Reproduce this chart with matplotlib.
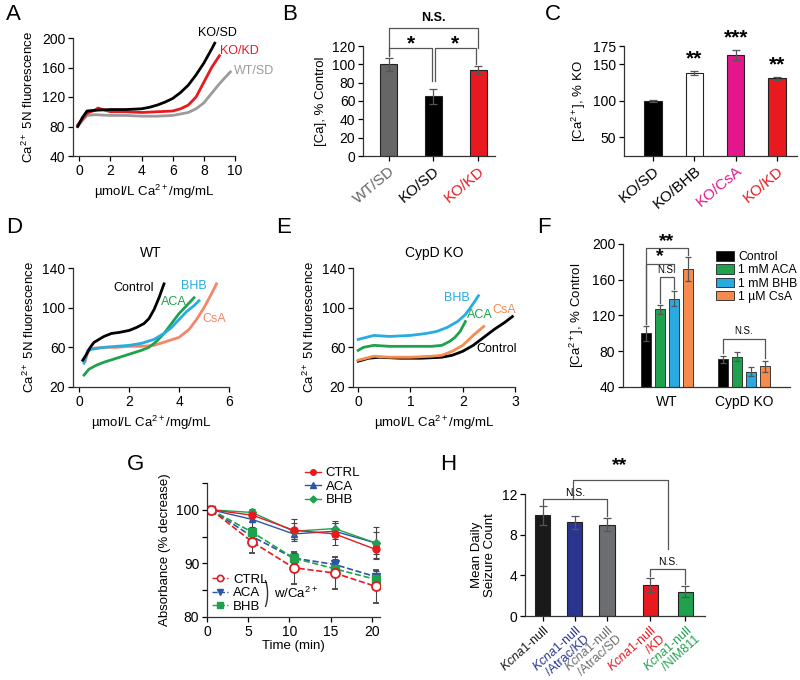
import matplotlib
matplotlib.use('Agg')
import matplotlib.pyplot as plt
from matplotlib.lines import Line2D
from matplotlib.patches import Arc

plt.rcParams['font.family'] = ['Liberation Sans', 'DejaVu Sans']
plt.rcParams['mathtext.fontset'] = 'custom'
plt.rcParams['mathtext.rm'] = 'Liberation Sans'
plt.rcParams['mathtext.it'] = 'Liberation Sans:italic'
plt.rcParams['axes.linewidth'] = 0.9
plt.rcParams['axes.edgecolor'] = '#333333'
plt.rcParams['xtick.labelsize'] = 10
plt.rcParams['ytick.labelsize'] = 10
plt.rcParams['axes.labelsize'] = 9.5

RED = '#e8191f'
GREY = '#666666'
GREEN = '#1fa14e'
BLUE = '#29abe2'
SALMON = '#f4866a'
ORANGE = '#f58b4c'
MAGENTA = '#e6168c'
NAVY = '#2a3590'
GBLUE = '#2a55a8'

# ---- A: Ca2+ 5N fluorescence vs Ca2+ load ----
a_kosd_x = [-0.1, 0.2, 0.5, 1, 2, 3, 4, 4.5, 5, 5.5, 6, 6.5, 7, 7.5, 8, 8.5, 8.7]
a_kosd_y = [80, 92, 101, 102, 103, 103, 104, 106, 109, 113, 118, 126, 136, 150, 166, 185, 193]
a_kokd_x = [-0.1, 0.2, 0.5, 1, 1.2, 2, 3, 4, 5, 6, 6.5, 7, 7.5, 8, 8.5, 9]
a_kokd_y = [82, 90, 98, 102, 105, 100, 100, 99, 100, 101, 104, 109, 120, 140, 160, 176]
a_wtsd_x = [-0.1, 0.2, 0.5, 1, 2, 3, 4, 5, 6, 6.5, 7, 7.5, 8, 8.5, 9, 9.7]
a_wtsd_y = [80, 88, 95, 96, 95, 95, 94, 94, 95, 97, 99, 104, 112, 125, 138, 154]

# ---- B ----
b_labels = ['WT/SD', 'KO/SD', 'KO/KD']
b_vals = [100, 65, 94]
b_err = [7, 8, 4]

# ---- C ----
c_labels = ['KO/SD', 'KO/BHB', 'KO/CsA', 'KO/KD']
c_vals = [100, 138, 163, 131]
c_err = [1.5, 3, 7, 2]

# ---- D: WT ----
d_ctrl_x = [0.15, 0.3, 0.45, 0.6, 0.8, 1.0, 1.3, 1.6, 2.0, 2.3, 2.6, 2.8, 3.0, 3.2, 3.4]
d_ctrl_y = [47, 53, 60, 65, 68, 71, 74, 75, 77, 80, 84, 89, 98, 110, 124]
d_bhb_x = [0.2, 0.35, 0.5, 1.0, 1.5, 2.0, 2.5, 3.0, 3.4, 3.7, 4.0, 4.3, 4.6, 4.8]
d_bhb_y = [44, 57, 58, 60, 61, 62, 64, 68, 74, 80, 88, 96, 102, 107]
d_aca_x = [0.2, 0.4, 0.7, 1.0, 1.5, 2.0, 2.5, 2.8, 3.1, 3.4, 3.7, 4.0, 4.3, 4.6]
d_aca_y = [32, 38, 42, 45, 49, 53, 57, 60, 66, 74, 84, 94, 102, 110]
d_csa_x = [0.25, 0.35, 0.5, 1.0, 1.5, 2.0, 2.5, 3.0, 3.5, 4.0, 4.4, 4.7, 5.0, 5.3, 5.5]
d_csa_y = [46, 55, 59, 60, 60, 61, 61, 62, 66, 70, 78, 88, 100, 114, 124]

# ---- E: CypD KO ----
e_bhb_x = [0, 0.15, 0.3, 0.6, 1.0, 1.3, 1.5, 1.7, 1.9, 2.05, 2.2, 2.3]
e_bhb_y = [68, 70, 72, 71, 72, 74, 76, 80, 86, 93, 104, 112]
e_aca_x = [0, 0.1, 0.3, 0.6, 1.0, 1.4, 1.6, 1.75, 1.85, 1.95, 2.05]
e_aca_y = [57, 60, 62, 61, 61, 61, 62, 66, 70, 76, 86]
e_csa_x = [0, 0.15, 0.3, 0.6, 1.0, 1.4, 1.6, 1.8, 2.0, 2.2, 2.4]
e_csa_y = [47, 49, 51, 50, 50, 51, 52, 56, 62, 72, 81]
e_ctrl_x = [0, 0.2, 0.4, 0.8, 1.2, 1.6, 1.8, 2.0, 2.2, 2.4, 2.6, 2.8, 2.95]
e_ctrl_y = [46, 49, 50, 49, 49, 50, 52, 56, 62, 70, 78, 85, 91]

# ---- F ----
f_groups = ['WT', 'CypD KO']
f_series = ['Control', '1 mM ACA', '1 mM BHB', '1 \u00b5M CsA']
f_wt = [100, 127, 139, 172]
f_wt_err = [8, 5, 8, 13]
f_ko = [71, 74, 57, 63]
f_ko_err = [4, 5, 5, 6]

# ---- G ----
g_time = [0.5, 5.5, 10.5, 15.5, 20.5]
g_ctrl = [100, 99, 96.2, 95.5, 92.6]
g_ctrl_err = [0.5, 1.2, 2, 2, 1.5]
g_aca = [100, 98.2, 95.5, 96.0, 93.8]
g_aca_err = [0.5, 1.5, 1, 1.5, 3]
g_bhb = [100, 99.5, 96.0, 96.5, 93.8]
g_bhb_err = [0.5, 0.5, 1.5, 1.5, 2]
g_ctrl_ca = [100, 94, 89.2, 88.2, 85.7]
g_ctrl_ca_err = [0.5, 2, 3, 3, 3]
g_aca_ca = [100, 95, 91, 89.8, 87.5]
g_aca_ca_err = [0.5, 1, 1, 1, 1]
g_bhb_ca = [100, 95.8, 91, 89, 87]
g_bhb_ca_err = [0.5, 0.5, 1, 1, 1]

# ---- H ----
h_labels = ['$\\it{Kcna1}$-null', '$\\it{Kcna1}$-null\n/Atrac/KD', '$\\it{Kcna1}$-null\n/Atrac/SD',
            '$\\it{Kcna1}$-null\n/KD', '$\\it{Kcna1}$-null\n/NIM811']
h_vals = [9.9, 9.2, 9.0, 3.05, 2.4]
h_err = [0.9, 0.6, 0.65, 0.7, 0.55]

W, H = 800, 680
fig = plt.figure(figsize=(8, 6.8), dpi=100)


def add_ax(left, top, right, bottom):
    return fig.add_axes([left / W, 1 - bottom / H, (right - left) / W, (bottom - top) / H])


def clean(ax):
    ax.spines['top'].set_visible(False)
    ax.spines['right'].set_visible(False)
    ax.tick_params(direction='out', length=3.5, width=0.9, pad=2)


def bracket(ax, x1, x2, y, y1, y2, text, fs=9, dy=2, weight='normal'):
    ax.plot([x1, x1, x2, x2], [y1, y, y, y2], color='#555555', lw=0.9, clip_on=False)
    if text:
        ax.text((x1 + x2) / 2, y + dy, text, ha='center', va='bottom', fontsize=fs,
                fontweight=weight, clip_on=False)


def letter(x, y, s):
    fig.text(x / W, 1 - y / H, s, fontsize=16, ha='left', va='center')


# A
ax = add_ax(73, 38, 235, 156)
clean(ax)
ax.plot(a_wtsd_x, a_wtsd_y, color='#9b9b9b', lw=2)
ax.plot(a_kokd_x, a_kokd_y, color=RED, lw=2)
ax.plot(a_kosd_x, a_kosd_y, color='black', lw=2)
ax.set_xlim(-0.4, 10)
ax.set_ylim(40, 200)
ax.set_xticks([0, 2, 4, 6, 8, 10])
ax.set_yticks([40, 80, 120, 160, 200])
ax.set_xlabel('\u00b5mol/L Ca$^{2+}$/mg/mL')
ax.set_ylabel('Ca$^{2+}$ 5N fluorescence')
ax.text(8.9, 199, 'KO/SD', fontsize=9, ha='center', va='bottom', clip_on=False)
ax.text(10.3, 182, 'KO/KD', fontsize=9, color=RED, ha='center', va='center', clip_on=False)
ax.text(11.2, 155, 'WT/SD', fontsize=9, color='#9b9b9b', ha='center', va='center', clip_on=False)
letter(6, 15, 'A')

# B
ax = add_ax(363, 46, 495, 156)
clean(ax)
xb = range(len(b_vals))
ax.bar(xb, b_vals, width=0.38, color=[GREY, 'black', RED], edgecolor='#222222', lw=0.8,
       yerr=b_err, error_kw=dict(ecolor='#555555', elinewidth=0.9, capsize=3, capthick=0.9))
ax.set_xlim(-0.58, 2.38)
ax.set_ylim(0, 120)
ax.set_yticks(range(0, 121, 20))
ax.set_xticks(list(xb))
ax.set_xticklabels(b_labels, rotation=40, ha='right', rotation_mode='anchor', fontsize=11)
for t, c in zip(ax.get_xticklabels(), [GREY, 'black', RED]):
    t.set_color(c)
ax.set_ylabel('[Ca], % Control')
bracket(ax, 0, 0.97, 118, 109, 82, '*', fs=15, dy=-6, weight='bold')
bracket(ax, 1.03, 1.95, 118, 82, 100, '*', fs=15, dy=-6, weight='bold')
bracket(ax, 0, 2.0, 140, 110, 118, 'N.S.', fs=9, dy=4, weight='bold')
letter(282, 15, 'B')

# C
ax = add_ax(624, 46, 797, 156)
clean(ax)
xc = range(len(c_vals))
ax.bar(xc, c_vals, width=0.42, bottom=0, color=['black', 'white', MAGENTA, RED],
       edgecolor='#222222', lw=0.8,
       yerr=c_err, error_kw=dict(ecolor='#555555', elinewidth=0.9, capsize=3, capthick=0.9))
ax.set_xlim(-0.7, 3.48)
ax.set_ylim(24, 175)
ax.set_yticks([50, 100, 150, 175])
ax.set_xticks(list(xc))
ax.set_xticklabels(c_labels, rotation=40, ha='right', rotation_mode='anchor', fontsize=11)
for t, c in zip(ax.get_xticklabels(), ['black', 'black', MAGENTA, RED]):
    t.set_color(c)
ax.set_ylabel('[Ca$^{2+}$], % KO')
for i, s in zip([1, 2, 3], ['**', '***', '**']):
    ax.text(i, c_vals[i] + c_err[i] + 3, s, ha='center', va='bottom', fontsize=15,
            fontweight='bold', clip_on=False)
letter(545, 15, 'C')

# D
ax = add_ax(73, 268, 229, 387)
clean(ax)
ax.plot(d_csa_x, d_csa_y, color=SALMON, lw=2)
ax.plot(d_aca_x, d_aca_y, color=GREEN, lw=2)
ax.plot(d_bhb_x, d_bhb_y, color=BLUE, lw=2)
ax.plot(d_ctrl_x, d_ctrl_y, color='black', lw=2)
ax.set_xlim(-0.24, 6)
ax.set_ylim(20, 140)
ax.set_xticks([0, 2, 4, 6])
ax.set_yticks([20, 60, 100, 140])
ax.set_xlabel('\u00b5mol/L Ca$^{2+}$/mg/mL')
ax.set_ylabel('Ca$^{2+}$ 5N fluorescence')
ax.set_title('WT', fontsize=10, pad=8)
ax.text(2.2, 120, 'Control', fontsize=9, ha='center', va='center')
ax.text(4.6, 122, 'BHB', fontsize=9, ha='center', va='center', color=BLUE)
ax.text(3.8, 106, 'ACA', fontsize=9, ha='center', va='center', color=GREEN)
ax.text(5.4, 89, 'CsA', fontsize=9, ha='center', va='center', color=SALMON)
letter(6, 228, 'D')

# E
ax = add_ax(353, 268, 515, 387)
clean(ax)
ax.plot(e_ctrl_x, e_ctrl_y, color='black', lw=2)
ax.plot(e_csa_x, e_csa_y, color=ORANGE, lw=2)
ax.plot(e_aca_x, e_aca_y, color=GREEN, lw=2)
ax.plot(e_bhb_x, e_bhb_y, color=BLUE, lw=2)
ax.set_xlim(-0.1, 3.0)
ax.set_ylim(20, 140)
ax.set_xticks([0, 1, 2, 3])
ax.set_yticks([20, 60, 100, 140])
ax.set_xlabel('\u00b5mol/L Ca$^{2+}$/mg/mL')
ax.set_ylabel('Ca$^{2+}$ 5N fluorescence')
ax.set_title('CypD KO', fontsize=10, pad=8)
ax.text(1.88, 110, 'BHB', fontsize=9, ha='center', va='center', color=BLUE)
ax.text(2.32, 93, 'ACA', fontsize=9, ha='center', va='center', color=GREEN)
ax.text(2.8, 98, 'CsA', fontsize=9, ha='center', va='center', color=ORANGE)
ax.text(2.65, 58, 'Control', fontsize=9, ha='center', va='center')
letter(276, 228, 'E')

# F
ax = add_ax(623, 244, 790, 387)
clean(ax)
f_colors = ['black', GREEN, BLUE, ORANGE]
offs = [-1.5, -0.5, 0.5, 1.5]
centers = [0, 5.5]
for i in range(4):
    ax.bar([centers[0] + offs[i], centers[1] + offs[i]], [f_wt[i], f_ko[i]], width=0.68,
           bottom=0, color=f_colors[i], edgecolor='#222222', lw=0.6, label=f_series[i],
           yerr=[f_wt_err[i], f_ko_err[i]],
           error_kw=dict(ecolor='#555555', elinewidth=0.9, capsize=2.5, capthick=0.9))
ax.set_xlim(-3.14, 8.8)
ax.set_ylim(40, 200)
ax.set_yticks([40, 80, 120, 160, 200])
ax.set_xticks(centers)
ax.set_xticklabels(f_groups, fontsize=10)
ax.tick_params(axis='x', length=0, pad=6)
ax.set_ylabel('[Ca$^{2+}$], % Control')
bracket(ax, -1.5, 1.5, 196, 110, 188, '**', fs=14, dy=-3, weight='bold')
bracket(ax, -1.5, 0.5, 178, 110, 170, '*', fs=14, dy=-2, weight='bold')
bracket(ax, -0.5, 0.5, 163, 134, 150, 'N.S.', fs=7, dy=2)
bracket(ax, 4.0, 7.0, 94, 78, 72, 'N.S.', fs=7, dy=3)
ax.legend(loc='upper left', bbox_to_anchor=(0.555, 0.95), frameon=False, fontsize=8.8,
          handlelength=1.5, handleheight=0.8, handletextpad=0.35, labelspacing=0.1,
          borderaxespad=0, borderpad=0)
letter(537, 228, 'F')

# G
ax = add_ax(207, 483, 380, 617)
clean(ax)
ekw = dict(elinewidth=0.8, capsize=2.5, capthick=0.8, ecolor='#444444')
ax.errorbar(g_time, g_aca, yerr=g_aca_err, color=GBLUE, marker='^', ms=5, lw=1, **ekw)
ax.errorbar(g_time, g_bhb, yerr=g_bhb_err, color=GREEN, marker='D', ms=4, lw=1, **ekw)
ax.errorbar(g_time, g_ctrl, yerr=g_ctrl_err, color=RED, marker='o', ms=5, lw=1, **ekw)
ax.errorbar(g_time, g_aca_ca, yerr=g_aca_ca_err, color=GBLUE, marker='v', ms=5.5, lw=1.2, ls='--', **ekw)
ax.errorbar(g_time, g_bhb_ca, yerr=g_bhb_ca_err, color=GREEN, marker='s', ms=5.5, lw=1.2, ls='--', **ekw)
ax.errorbar(g_time, g_ctrl_ca, yerr=g_ctrl_ca_err, color=RED, marker='o', ms=6.5, mfc='white',
            mew=1.3, lw=1.2, ls='--', **ekw)
ax.set_xlim(0, 21)
ax.set_ylim(80, 105)
ax.set_xticks([0, 5, 10, 15, 20])
ax.set_yticks([80, 90, 100])
ax.set_yticks([85, 95, 105], minor=True)
ax.tick_params(which='minor', length=3.5, width=0.9)
ax.set_xlabel('Time (min)', labelpad=1)
ax.set_ylabel('Absorbance (% decrease)')
h1 = [Line2D([], [], color=RED, marker='o', ms=4, lw=1),
      Line2D([], [], color=GBLUE, marker='^', ms=4, lw=1),
      Line2D([], [], color=GREEN, marker='D', ms=3.5, lw=1)]
leg1 = ax.legend(h1, ['CTRL', 'ACA', 'BHB'], loc='upper left', bbox_to_anchor=(0.565, 1.12),
                 frameon=False, fontsize=9.5, handlelength=1.2, handletextpad=0.4,
                 labelspacing=0.1, borderaxespad=0, borderpad=0)
ax.add_artist(leg1)
h2 = [Line2D([], [], color=RED, marker='o', ms=4.5, mfc='white', mew=1.2, lw=1, ls='--'),
      Line2D([], [], color=GBLUE, marker='v', ms=4.5, lw=1, ls='--'),
      Line2D([], [], color=GREEN, marker='s', ms=4.5, lw=1, ls='--')]
ax.legend(h2, ['CTRL', 'ACA', 'BHB'], loc='lower left', bbox_to_anchor=(0.03, 0.03),
          frameon=False, fontsize=9.5, handlelength=1.2, handletextpad=0.4,
          labelspacing=0.1, borderaxespad=0, borderpad=0)
ax.add_patch(Arc((0.31, 0.175), 0.08, 0.27, theta1=-75, theta2=75, transform=ax.transAxes,
                 color='#333333', lw=1.0))
ax.text(0.385, 0.175, 'w/Ca$^{2+}$', transform=ax.transAxes, fontsize=9.5, ha='left', va='center')
letter(127, 465, 'G')

# H
ax = add_ax(525, 494, 705, 616)
clean(ax)
xh = [0, 1, 2, 3.35, 4.45]
h_colors = ['#1a1a1a', NAVY, '#6d6e71', RED, GREEN]
ax.bar(xh, h_vals, width=0.47, color=h_colors, edgecolor='#222222', lw=0.8,
       yerr=h_err, error_kw=dict(ecolor='#555555', elinewidth=0.9, capsize=3, capthick=0.9))
ax.set_xlim(-0.56, 5.06)
ax.set_ylim(0, 12)
ax.set_yticks([0, 4, 8, 12])
ax.set_xticks(xh)
ax.set_xticklabels(h_labels, rotation=42, ha='right', rotation_mode='anchor', fontsize=9,
                   linespacing=1.0)
for t, c in zip(ax.get_xticklabels(), h_colors):
    t.set_color(c)
ax.set_ylabel('Mean Daily\nSeizure Count')
bracket(ax, 0, 2, 11.5, 10.95, 9.8, 'N.S.', fs=7.5, dy=0.15)
bracket(ax, 0.95, 3.9, 13.4, 11.5, 6.6, '', fs=7.5)
ax.text(2.4, 14.0, '**', ha='center', va='bottom', fontsize=14, fontweight='bold', clip_on=False)
bracket(ax, 3.35, 4.45, 4.6, 3.9, 3.1, 'N.S.', fs=7.5, dy=0.25)
letter(440, 465, 'H')

fig.savefig('out.png', dpi=100)
